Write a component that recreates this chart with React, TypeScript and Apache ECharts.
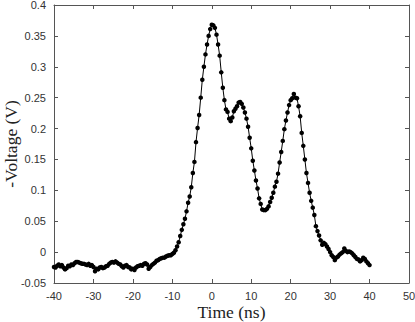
import React, { useEffect, useRef } from "react";
import * as echarts from "echarts";

// [time (ns), -voltage (V)]
const baseline: [number, number][] = [
  [-40.0, -0.024], [-39.6, -0.025], [-39.2, -0.022], [-38.8, -0.020], [-38.4, -0.023],
  [-38.0, -0.021], [-37.6, -0.025], [-37.2, -0.028], [-36.8, -0.026], [-36.4, -0.022],
  [-36.0, -0.023], [-35.6, -0.020], [-35.2, -0.021], [-34.8, -0.018], [-34.4, -0.016],
  [-34.0, -0.016], [-33.6, -0.017], [-33.2, -0.018], [-32.8, -0.019], [-32.4, -0.019],
  [-32.0, -0.020], [-31.6, -0.021], [-31.2, -0.019], [-30.8, -0.022], [-30.4, -0.021],
  [-30.0, -0.024], [-29.6, -0.031], [-29.2, -0.027], [-28.8, -0.028], [-28.4, -0.025],
  [-28.0, -0.024], [-27.6, -0.026], [-27.2, -0.025], [-26.8, -0.023], [-26.4, -0.022],
  [-26.0, -0.019], [-25.6, -0.017], [-25.2, -0.016], [-24.8, -0.017], [-24.4, -0.015],
  [-24.0, -0.017], [-23.6, -0.019], [-23.2, -0.020], [-22.8, -0.023], [-22.4, -0.025],
  [-22.0, -0.022], [-21.6, -0.021], [-21.2, -0.024], [-20.8, -0.025], [-20.4, -0.028],
  [-20.0, -0.027], [-19.6, -0.029], [-19.2, -0.025], [-18.8, -0.023], [-18.4, -0.022],
  [-18.0, -0.021], [-17.6, -0.022], [-17.2, -0.019], [-16.8, -0.018], [-16.4, -0.020],
  [-16.0, -0.027], [-15.6, -0.024], [-15.2, -0.021], [-14.8, -0.019], [-14.4, -0.017],
  [-14.0, -0.014], [-13.6, -0.013], [-13.2, -0.011], [-12.8, -0.010], [-12.4, -0.009],
  [-12.0, -0.009], [-11.6, -0.007], [-11.2, -0.006], [-10.8, -0.005], [-10.4, -0.005],
  [-10.0, -0.003], [-9.6, -0.001],
];

const mainPeak: [number, number][] = [
  [-9.2, 0.003], [-8.8, 0.009], [-8.4, 0.016], [-8.0, 0.026], [-7.6, 0.036],
  [-7.2, 0.045], [-6.8, 0.054], [-6.4, 0.066], [-6.0, 0.080], [-5.6, 0.090],
  [-5.2, 0.105], [-4.8, 0.128], [-4.4, 0.146], [-4.0, 0.178], [-3.6, 0.201],
  [-3.2, 0.222], [-2.8, 0.250], [-2.4, 0.279], [-2.0, 0.300], [-1.6, 0.320],
  [-1.2, 0.336], [-0.8, 0.350], [-0.4, 0.361], [0.0, 0.368], [0.4, 0.367],
  [0.8, 0.363], [1.2, 0.352], [1.6, 0.336], [2.0, 0.318], [2.4, 0.291],
  [2.8, 0.266], [3.2, 0.246], [3.6, 0.231], [4.0, 0.227], [4.4, 0.216],
  [4.8, 0.212], [5.2, 0.218], [5.6, 0.228], [6.0, 0.232], [6.4, 0.236],
  [6.8, 0.242], [7.2, 0.243], [7.6, 0.240], [8.0, 0.234], [8.4, 0.226],
  [8.8, 0.216], [9.2, 0.203], [9.6, 0.185], [10.0, 0.168], [10.4, 0.148],
  [10.8, 0.132], [11.2, 0.116], [11.6, 0.103], [12.0, 0.087], [12.4, 0.078],
  [12.8, 0.069], [13.2, 0.068], [13.6, 0.068],
];

const secondPeak: [number, number][] = [
  [14.0, 0.070], [14.4, 0.074], [14.8, 0.081], [15.2, 0.088], [15.6, 0.096],
  [16.0, 0.106], [16.4, 0.114], [16.8, 0.127], [17.2, 0.145], [17.6, 0.162],
  [18.0, 0.180], [18.4, 0.199], [18.8, 0.213], [19.2, 0.226], [19.6, 0.238],
  [20.0, 0.246], [20.4, 0.249], [20.8, 0.256], [21.2, 0.250], [21.6, 0.249],
  [22.0, 0.236], [22.4, 0.220], [22.8, 0.193], [23.2, 0.172], [23.6, 0.150],
  [24.0, 0.128], [24.4, 0.112], [24.8, 0.096], [25.2, 0.083], [25.6, 0.072],
  [26.0, 0.060], [26.4, 0.042], [26.8, 0.034], [27.2, 0.027], [27.6, 0.019],
];

const tail: [number, number][] = [
  [28.0, 0.012], [28.4, 0.015], [28.8, 0.013], [29.2, 0.009], [29.6, 0.005],
  [30.0, 0.000], [30.4, -0.005], [30.8, -0.008], [31.2, -0.013], [31.6, -0.009],
  [32.0, -0.007], [32.4, -0.004], [32.8, -0.002], [33.2, 0.000], [33.6, 0.006],
  [34.0, 0.002], [34.4, 0.000], [34.8, 0.001], [35.2, 0.000], [35.6, -0.002],
  [36.0, -0.005], [36.4, -0.008], [36.8, -0.011], [37.2, -0.012], [37.6, -0.015],
  [38.0, -0.013], [38.4, -0.009], [38.8, -0.011], [39.2, -0.015], [39.6, -0.018],
  [40.0, -0.021],
];

const xMin = -40, xMax = 50, xStep = 10;
const yMin = -0.05, yMax = 0.4, yStep = 0.05;

export default function App() {
  const ref = useRef<HTMLDivElement>(null);
  useEffect(() => {
    if (!ref.current) return;
    const chart = echarts.init(ref.current, undefined, { renderer: "svg" });
    const data = [...baseline, ...mainPeak, ...secondPeak, ...tail];
    const labelFont = { fontFamily: "Liberation Sans, Arial, sans-serif", fontSize: 11, color: "#333" };
    const axisLine = { show: true, onZero: false, lineStyle: { color: "#555", width: 1 } };
    const tick = { show: true, inside: true, length: 4, lineStyle: { color: "#555" } };
    const fmtY = (v: number) => String(Math.round(v * 1000) / 1000);
    const nameFont = { fontFamily: "Liberation Serif, Times New Roman, serif", fontSize: 17.5, color: "#222" };
    chart.setOption({
      animation: false,
      backgroundColor: "#fff",
      grid: { left: 54, right: 6, top: 5, bottom: 39, containLabel: false, outerBoundsMode: "none" },
      xAxis: [
        {
          type: "value", min: xMin, max: xMax, interval: xStep,
          axisLine, axisTick: tick, splitLine: { show: false },
          axisLabel: { ...labelFont, margin: 7 },
          name: "Time (ns)", nameLocation: "middle", nameGap: 20, nameMoveOverlap: false,
          nameTextStyle: nameFont,
        },
        {
          type: "value", position: "top", min: xMin, max: xMax, interval: xStep,
          axisLine, axisTick: tick, axisLabel: { show: false }, splitLine: { show: false },
        },
      ],
      yAxis: [
        {
          type: "value", min: yMin, max: yMax, interval: yStep,
          axisLine, axisTick: tick, splitLine: { show: false },
          axisLabel: { ...labelFont, margin: 8, formatter: fmtY },
          name: "-Voltage (V)", nameLocation: "middle", nameGap: 34, nameMoveOverlap: false,
          nameTextStyle: nameFont,
        },
        {
          type: "value", position: "right", min: yMin, max: yMax, interval: yStep,
          axisLine, axisTick: tick, axisLabel: { show: false }, splitLine: { show: false },
        },
      ],
      series: [
        {
          type: "line", data, xAxisIndex: 0, yAxisIndex: 0,
          symbol: "circle", symbolSize: 4.5, showSymbol: true,
          lineStyle: { color: "#000", width: 1 },
          itemStyle: { color: "#000" },
        },
      ],
    });
    return () => chart.dispose();
  }, []);
  return <div ref={ref} style={{ width: 415, height: 322, position: "absolute", left: 0, top: 0 }} />;
}
